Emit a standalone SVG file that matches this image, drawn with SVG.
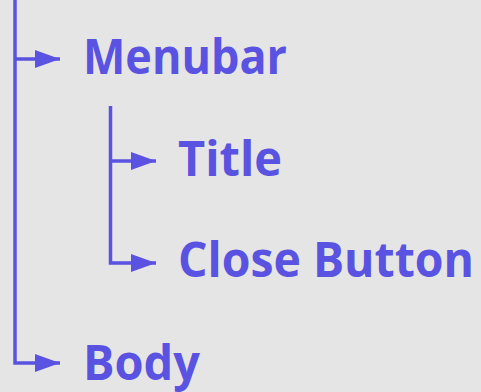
<svg xmlns="http://www.w3.org/2000/svg" width="481" height="392" viewBox="0 0 481 392">
<style>
.c{fill:none;stroke:#5a52e0;stroke-width:3.5}
.t{font-family:"Open Sans","Noto Sans","Liberation Sans",sans-serif;font-weight:700;font-size:49px;fill:#5a52e0}
</style>
<defs>
<marker id="ah" viewBox="0 0 25 18" refX="25" refY="9" markerWidth="25" markerHeight="18" markerUnits="userSpaceOnUse" orient="auto">
<path d="M0,0 L25,9 L0,18 z" fill="#5a52e0"/>
</marker>
</defs>
<rect width="481" height="392" fill="#e5e5e5"/>
<g id="connectors">
<path class="c" d="M15,0 V363 H60" marker-end="url(#ah)"/>
<path class="c" d="M15,59 H60" marker-end="url(#ah)"/>
<path class="c" d="M110.5,106 V263 H156" marker-end="url(#ah)"/>
<path class="c" d="M110.5,161 H156" marker-end="url(#ah)"/>
</g>
<g id="menubar"><text class="t" x="83" y="74" textLength="204" lengthAdjust="spacingAndGlyphs">Menubar</text></g>
<g id="title"><text class="t" x="178" y="176" textLength="104" lengthAdjust="spacingAndGlyphs">Title</text></g>
<g id="close-button"><text class="t" x="178" y="277" textLength="296" lengthAdjust="spacingAndGlyphs">Close Button</text></g>
<g id="body"><text class="t" x="83" y="380" textLength="117" lengthAdjust="spacingAndGlyphs">Body</text></g>
</svg>
